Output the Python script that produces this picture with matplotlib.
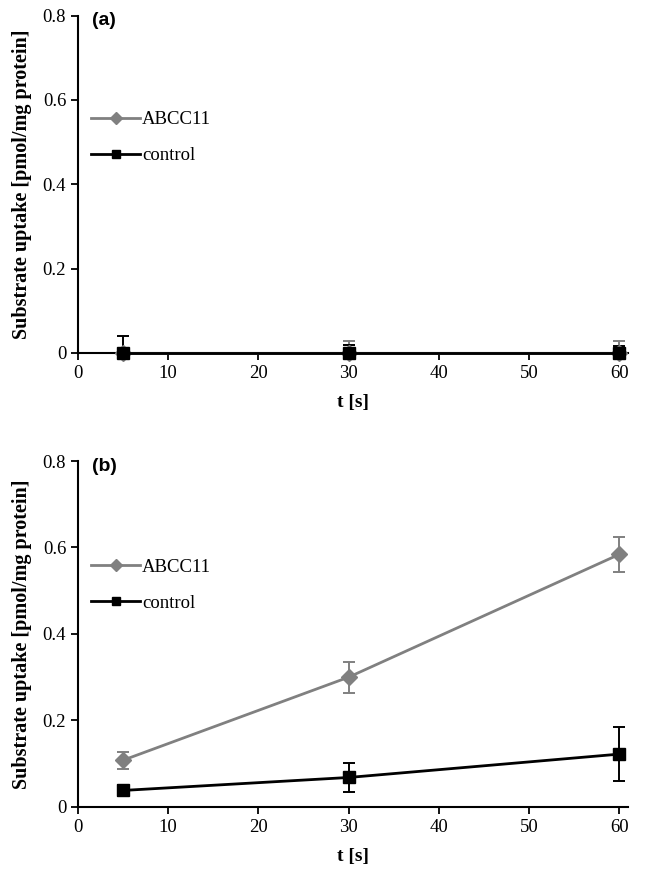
import numpy as np
import matplotlib
matplotlib.use("Agg")
from matplotlib import pyplot as plt
from matplotlib.lines import Line2D

t = [5, 30, 60]

# panel (a)
abcc11_a = [0.0, 0.0, 0.0]
abcc11_a_err = [0.005, 0.028, 0.028]
control_a = [0.0, 0.0, 0.0]
control_a_err = [0.04, 0.018, 0.015]

# panel (b)
abcc11_b = [0.108, 0.300, 0.584]
abcc11_b_err = [0.02, 0.036, 0.04]
control_b = [0.038, 0.068, 0.122]
control_b_err = [0.013, 0.033, 0.063]

xticks = [0, 10, 20, 30, 40, 50, 60]
yticks = [0, 0.2, 0.4, 0.6, 0.8]
ytick_labels = ["0", "0.2", "0.4", "0.6", "0.8"]

plt.rcParams['font.family'] = ['Liberation Serif', 'DejaVu Serif']

gray = '#808080'

fig = plt.figure(figsize=(6.45, 8.69), dpi=100)
ax1 = fig.add_axes([0.121, 0.594, 0.853, 0.388])
ax2 = fig.add_axes([0.121, 0.0715, 0.853, 0.398])

def draw(ax, ya, ea, yc, ec, tag):
    # error bars are clipped at the axes, markers are not
    ax.errorbar(t, ya, yerr=ea, fmt='none', ecolor=gray, capsize=4,
                elinewidth=1.4, capthick=1.4, zorder=2)
    ax.errorbar(t, yc, yerr=ec, fmt='none', ecolor='black', capsize=4,
                elinewidth=1.4, capthick=1.4, zorder=2)
    ax.plot(t, ya, color=gray, marker='D', markersize=8.5, lw=2,
            zorder=3, clip_on=False)
    ax.plot(t, yc, color='black', marker='s', markersize=8, lw=2,
            zorder=4, clip_on=False)
    ax.set_xlim(0, 61)
    ax.set_ylim(0, 0.8)
    ax.set_xticks(xticks)
    ax.set_yticks(yticks)
    ax.set_yticklabels(ytick_labels)
    ax.tick_params(labelsize=13.5, direction='out', length=5, width=1.3)
    for s in ['top', 'right']:
        ax.spines[s].set_visible(False)
    for s in ['left', 'bottom']:
        ax.spines[s].set_linewidth(1.5)
    ax.set_xlabel('t [s]', fontsize=14, fontweight='bold', labelpad=9)
    ax.set_ylabel('Substrate uptake [pmol/mg protein]', fontsize=14.5,
                  fontweight='bold', labelpad=8)
    ax.text(0.025, 1.01, tag, transform=ax.transAxes, fontsize=14,
            fontweight='bold', family='Liberation Sans', va='top', ha='left')
    handles = [Line2D([], [], color=gray, marker='D', markersize=6.5, lw=2),
               Line2D([], [], color='black', marker='s', markersize=6, lw=2)]
    ax.legend(handles, ['ABCC11', 'control'], loc='upper left',
              bbox_to_anchor=(0.0, 0.755), frameon=False, fontsize=13.5,
              handlelength=2.6, handletextpad=0.1, labelspacing=1.0,
              borderaxespad=0.3)

draw(ax1, abcc11_a, abcc11_a_err, control_a, control_a_err, '(a)')
draw(ax2, abcc11_b, abcc11_b_err, control_b, control_b_err, '(b)')

fig.savefig('out.png', dpi=100)
